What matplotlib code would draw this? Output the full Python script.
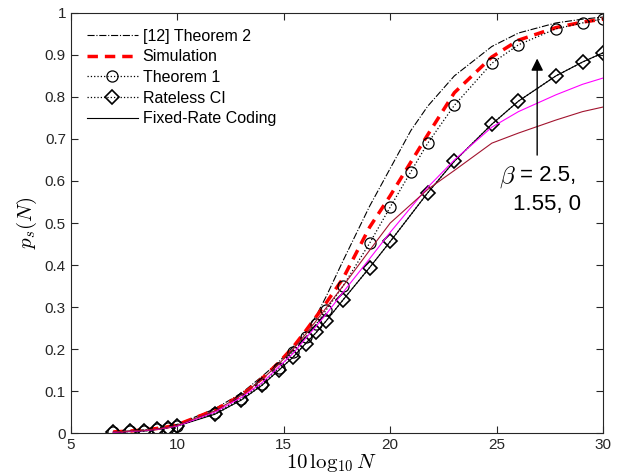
import numpy as np
import matplotlib
matplotlib.use("Agg")
import matplotlib.pyplot as plt

plt.rcParams['font.family'] = ['Liberation Sans', 'DejaVu Sans']
plt.rcParams['mathtext.fontset'] = 'cm'

# N grids (x axis is 10 log10 N)
N_diam = [5, 6, 7, 8, 9, 10, 15, 20, 25, 30, 35, 40, 45, 50, 60, 80, 100, 150, 200, 300, 400, 600, 800, 1000]
N_circ = [5, 6, 7, 8, 9, 10, 15, 20, 25, 30, 35, 40, 45, 50, 60, 80, 100, 125, 150, 200, 300, 400, 600, 800, 1000]

thm2 = [0.003, 0.005, 0.008, 0.012, 0.016, 0.021, 0.058, 0.095, 0.135, 0.17, 0.205, 0.24, 0.28, 0.325,
        0.41, 0.54, 0.63, 0.72, 0.778, 0.85, 0.92, 0.952, 0.976, 0.985, 0.99]
sim = [0.003, 0.005, 0.008, 0.011, 0.015, 0.02, 0.055, 0.09, 0.13, 0.168, 0.205, 0.243, 0.278, 0.31,
       0.368, 0.49, 0.565, 0.645, 0.71, 0.81, 0.895, 0.935, 0.965, 0.978, 0.985]
thm1 = [0.002, 0.004, 0.006, 0.009, 0.013, 0.017, 0.048, 0.082, 0.118, 0.155, 0.193, 0.228, 0.26, 0.293,
        0.35, 0.452, 0.538, 0.622, 0.69, 0.78, 0.88, 0.924, 0.962, 0.976, 0.986]
rateless = [0.002, 0.004, 0.005, 0.009, 0.013, 0.017, 0.045, 0.079, 0.114, 0.15, 0.181, 0.213, 0.24, 0.267,
            0.317, 0.394, 0.456, 0.572, 0.647, 0.735, 0.79, 0.85, 0.883, 0.905]
fixed_b0 = rateless
fixed_b155 = [0.002, 0.004, 0.006, 0.009, 0.013, 0.017, 0.05, 0.085, 0.12, 0.158, 0.19, 0.225, 0.255, 0.283,
              0.335, 0.415, 0.478, 0.585, 0.65, 0.728, 0.765, 0.805, 0.83, 0.845]
fixed_b25 = [0.003, 0.005, 0.007, 0.01, 0.014, 0.019, 0.053, 0.09, 0.128, 0.165, 0.2, 0.235, 0.268, 0.298,
             0.35, 0.435, 0.5, 0.58, 0.625, 0.69, 0.714, 0.745, 0.765, 0.776]

xd = 10 * np.log10(N_diam)
xc = 10 * np.log10(N_circ)

fig = plt.figure(figsize=(6.27, 4.76), dpi=100)
ax = fig.add_axes([0.113, 0.090, 0.849, 0.883])

ax.plot(xc, thm2, color='k', ls='-.', lw=0.8, label='[12] Theorem 2')
ax.plot(xc, sim, color='r', ls='--', lw=2.5, dashes=(3, 2), label='Simulation')
ax.plot(xc, thm1, color='k', ls=':', lw=0.9, marker='o', ms=8, mfc='none', mec='k', mew=0.9, label='Theorem 1')
ax.plot(xd, rateless, color='k', ls=':', lw=0.9, marker='D', ms=7, mfc='none', mec='k', mew=1.2, label='Rateless CI')
ax.plot(xd, fixed_b0, color='k', ls='-', lw=0.8, label='Fixed-Rate Coding')
ax.plot(xd, fixed_b155, color='#FF00FF', ls='-', lw=0.8)
ax.plot(xd, fixed_b25, color='#A2142F', ls='-', lw=0.8)

ax.set_xlim(5, 30)
ax.set_ylim(0, 1)
ax.set_xticks([5, 10, 15, 20, 25, 30])
ax.set_yticks(np.arange(0, 1.01, 0.1))
ax.set_yticklabels(['0', '0.1', '0.2', '0.3', '0.4', '0.5', '0.6', '0.7', '0.8', '0.9', '1'])
ax.tick_params(direction='in', top=True, right=True, labelsize=11, colors='#262626', length=5)
for s in ax.spines.values():
    s.set_color('#262626')
    s.set_linewidth(0.8)

ax.set_xlabel(r'$10\,\log_{10}N$', fontsize=15, labelpad=0)
ax.xaxis.set_label_coords(0.49, -0.071, transform=ax.transAxes)
ax.xaxis.label.set_va('center')
ax.set_ylabel(r'$p_s(N)$', fontsize=15, labelpad=4)

leg = ax.legend(loc='upper left', frameon=False, fontsize=11.5, handlelength=3.2,
                borderaxespad=0.6, labelspacing=0.35, handletextpad=0.3)

ax.annotate('', xy=(26.9, 0.898), xytext=(26.9, 0.655),
            arrowprops=dict(arrowstyle='-|>', color='k', lw=1.0, mutation_scale=18))
ax.text(25.1, 0.610, r'$\beta$', fontsize=18, ha='left', va='center')
ax.text(26.1, 0.614, '= 2.5,', fontsize=16, ha='left', va='center')
ax.text(25.77, 0.543, '1.55, 0', fontsize=16, ha='left', va='center')

fig.savefig('out.png', dpi=100)
